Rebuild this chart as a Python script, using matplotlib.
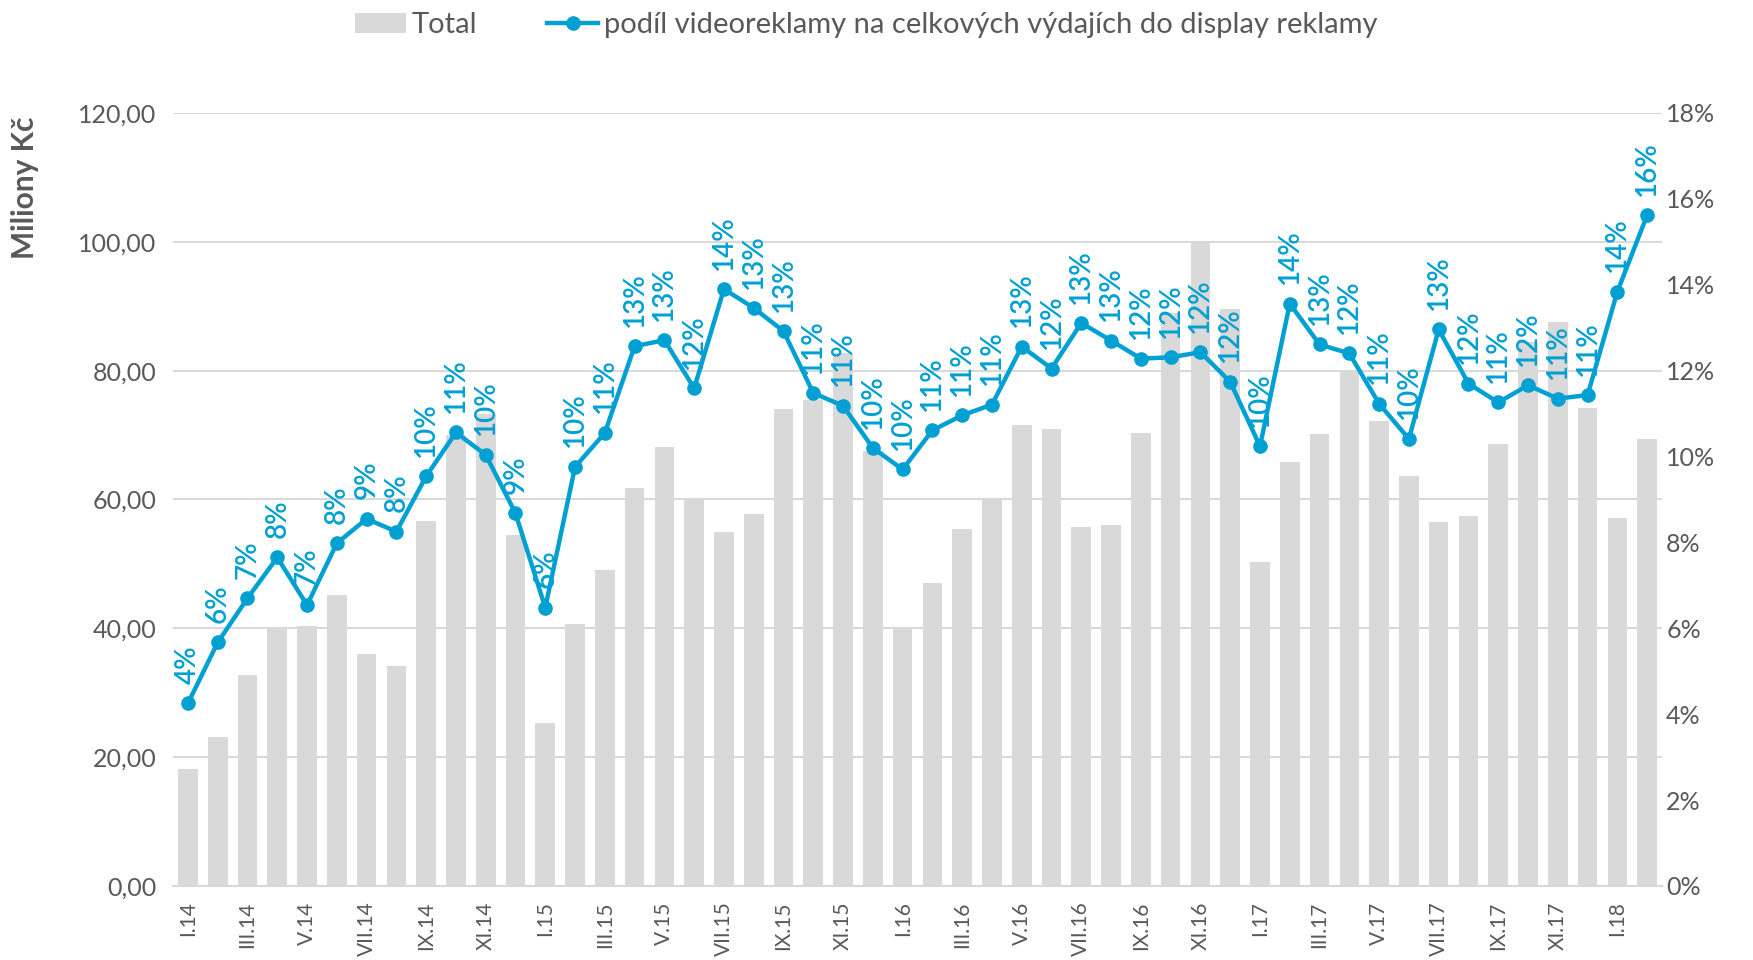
import matplotlib
matplotlib.use("Agg")
import matplotlib.pyplot as plt
from matplotlib.patches import Patch
from matplotlib.lines import Line2D
import numpy as np

plt.rcParams['font.family'] = ['Lato', 'DejaVu Sans']

# monthly data I.14 - II.18
roman = ['I', 'II', 'III', 'IV', 'V', 'VI', 'VII', 'VIII', 'IX', 'X', 'XI', 'XII']
years = ['14', '15', '16', '17', '18']
months = [f"{roman[m]}.{y}" for y in years for m in range(12)][:50]

total = [18.1, 23.1, 32.8, 40.0, 40.3, 45.2, 36.0, 34.2, 56.6, 70.0, 73.3, 54.5,
         25.3, 40.7, 49.1, 61.8, 68.2, 59.9, 55.0, 57.7, 74.0, 75.4, 82.7, 67.5,
         40.0, 47.1, 55.4, 60.2, 71.6, 71.0, 55.8, 56.1, 70.3, 88.9, 100.1, 89.5,
         50.3, 65.8, 70.2, 80.1, 72.2, 63.7, 56.5, 57.5, 68.6, 84.4, 87.6, 74.2,
         57.1, 69.4]

# share of video ads in display ad spend (%)
video_share = [4.25, 5.67, 6.70, 7.65, 6.54, 7.98, 8.55, 8.25, 9.54, 10.56, 10.04, 8.68,
               6.48, 9.76, 10.55, 12.57, 12.71, 11.59, 13.90, 13.46, 12.92, 11.48, 11.18, 10.20,
               9.70, 10.61, 10.96, 11.21, 12.56, 12.05, 13.11, 12.70, 12.28, 12.31, 12.43, 11.74,
               10.24, 13.56, 12.61, 12.40, 11.23, 10.41, 12.96, 11.70, 11.26, 11.66, 11.35, 11.43,
               13.84, 15.62]

bar_color = '#D9D9D9'
line_color = '#00A0D2'
text_color = '#595959'

fig = plt.figure(figsize=(17.53, 9.60), dpi=100)
ax = fig.add_axes([0.0987, 0.0771, 0.8494, 0.8052])
x = np.arange(len(months))

ax.bar(x, total, width=0.66, color=bar_color, zorder=2)
ax.set_xlim(-0.5, len(months) - 0.5)
ax.set_ylim(0, 120)
ax.set_yticks(np.arange(0, 121, 20))
ax.set_yticklabels([f"{v:.2f}".replace('.', ',') for v in np.arange(0, 121, 20)])
ax.yaxis.grid(True, color=bar_color, linewidth=1.5, zorder=0)
ax.set_axisbelow(True)
for s in ['top', 'right', 'left']:
    ax.spines[s].set_visible(False)
ax.spines['bottom'].set_color(bar_color)
ax.spines['bottom'].set_linewidth(1.5)
ax.set_xticks(x[::2])
ax.set_xticklabels(months[::2], rotation=90)
ax.tick_params(axis='x', length=0, pad=11, labelsize=15, labelcolor=text_color)
ax.tick_params(axis='y', length=0, pad=12, labelsize=18, labelcolor=text_color)

ax2 = ax.twinx()
ax2.plot(x, video_share, color=line_color, linewidth=3.2, marker='o', markersize=9.5, zorder=3)
ax2.set_ylim(0, 18)
ax2.set_yticks(np.arange(0, 19, 2))
ax2.set_yticklabels([f"{v}%" for v in range(0, 19, 2)])
ax2.tick_params(axis='y', length=0, pad=3, labelsize=18, labelcolor=text_color)
for s in ax2.spines.values():
    s.set_visible(False)

for xi, v in zip(x, video_share):
    ax2.annotate(f"{round(v)}%", (xi, v), xytext=(0, 14), textcoords='offset points',
                 rotation=90, ha='center', va='bottom', fontsize=20, fontweight='semibold',
                 color=line_color)

fig.text(0.014, 0.878, 'Miliony Kč', rotation=90, ha='center', va='top',
         fontsize=21.5, fontweight='bold', color=text_color)

handles = [Patch(facecolor=bar_color, edgecolor='none'),
           Line2D([0], [0], color=line_color, linewidth=3.2, marker='o', markersize=9.5)]
fig.legend(handles, ['Total', 'podíl videoreklamy na celkových výdajích do display reklamy'],
           loc='center', bbox_to_anchor=(0.494, 0.974), ncol=2, frameon=False,
           fontsize=21, labelcolor=text_color, handlelength=1.75, handletextpad=0.2,
           columnspacing=2.4)

plt.savefig('out.png', dpi=100)
